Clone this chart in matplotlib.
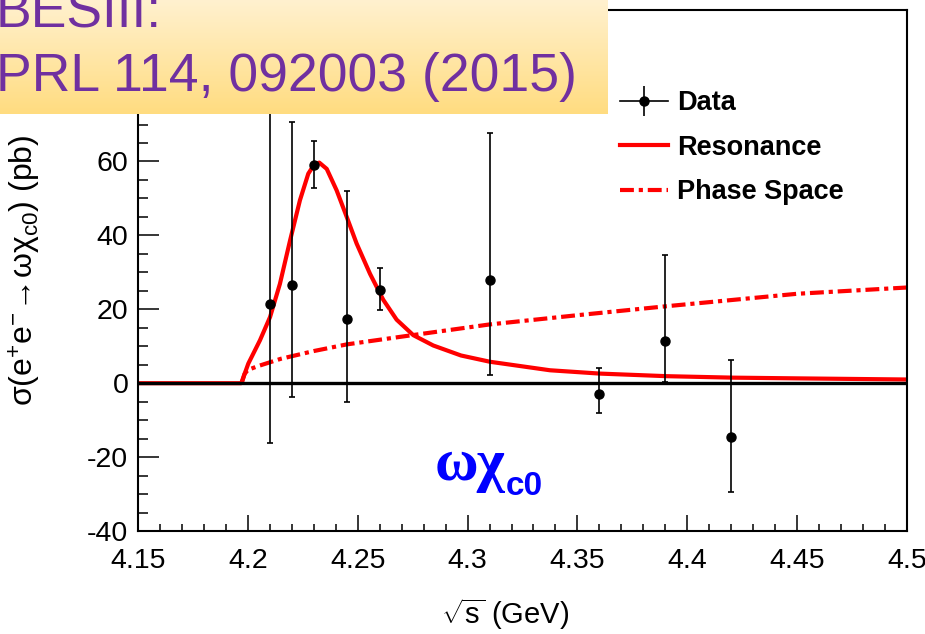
import numpy as np
import matplotlib.pyplot as plt
from matplotlib.lines import Line2D
from matplotlib.ticker import MultipleLocator
from matplotlib.colors import LinearSegmentedColormap

plt.rcParams['font.family'] = ['Liberation Sans', 'DejaVu Sans']
plt.rcParams['mathtext.fontset'] = 'custom'
plt.rcParams['mathtext.rm'] = 'Liberation Sans'
plt.rcParams['mathtext.it'] = 'Liberation Sans:italic'
plt.rcParams['mathtext.bf'] = 'Liberation Sans:bold'
plt.rcParams['mathtext.default'] = 'regular'
plt.rcParams['lines.scale_dashes'] = False

# measured cross sections (pb)
energy = [4.21, 4.22, 4.23, 4.245, 4.26, 4.31, 4.36, 4.39, 4.42]
xsec = [21.5, 26.7, 59.0, 17.3, 25.3, 27.8, -2.8, 11.3, -14.5]
err_lo = [37.7, 30.4, 6.1, 22.4, 5.6, 25.5, 5.4, 10.9, 14.9]
err_hi = [60.0, 43.9, 6.5, 34.6, 5.9, 39.8, 6.8, 23.3, 20.9]

# fit curves
res_x = [4.15, 4.197, 4.2002, 4.2055, 4.2101, 4.2146, 4.2192, 4.2237, 4.2275,
         4.2300, 4.2325, 4.2359, 4.2404, 4.2450, 4.2495, 4.2556, 4.2616,
         4.2677, 4.2753, 4.2844, 4.2970, 4.3102, 4.3375, 4.3602, 4.3906,
         4.4209, 4.4512, 4.5]
res_y = [0, 0, 5.3, 11.6, 17.9, 26.9, 38.6, 49.5, 56.7,
         59.0, 59.7, 58.0, 52.2, 45.0, 37.8, 29.6, 22.6,
         17.2, 13.0, 10.2, 7.5, 5.8, 3.5, 2.6, 1.9,
         1.5, 1.3, 1.0]
ps_x = [4.1972, 4.1985, 4.2, 4.205, 4.215, 4.23, 4.245, 4.27, 4.31, 4.35,
        4.39, 4.45, 4.5]
ps_y = [0, 2.5, 3.6, 4.7, 6.6, 8.7, 10.5, 12.6, 15.9, 18.4,
        20.8, 24.2, 25.9]

xtick_vals = [4.15, 4.2, 4.25, 4.3, 4.35, 4.4, 4.45, 4.5]
xtick_labels = ['4.15', '4.2', '4.25', '4.3', '4.35', '4.4', '4.45', '4.5']
ytick_vals = [-40, -20, 0, 20, 40, 60, 80, 100]
ytick_labels = ['-40', '-20', '0', '20', '40', '60', '80', '100']

W, H = 925, 634
fig = plt.figure(figsize=(W / 100, H / 100), dpi=100)
ax = fig.add_axes([138 / W, 1 - 531 / H, 769 / W, 521 / H])

res_line, = ax.plot(res_x, res_y, color='red', lw=3, zorder=2)
ps_line, = ax.plot(ps_x, ps_y, color='red', lw=3, dashes=(10, 3.5, 3, 3.5), zorder=2)
ax.axhline(0, color='black', lw=2.4, zorder=3)
ax.errorbar(energy, xsec, yerr=[err_lo, err_hi], fmt='o', color='black', ms=6.5,
            elinewidth=1.2, capsize=2.4, capthick=1.2, zorder=4)

ax.set_xlim(4.15, 4.5)
ax.set_ylim(-40, 101)
ax.set_xticks(xtick_vals, xtick_labels)
ax.set_yticks(ytick_vals, ytick_labels)
ax.xaxis.set_minor_locator(MultipleLocator(0.01))
ax.yaxis.set_minor_locator(MultipleLocator(5))
ax.tick_params(which='both', direction='in', top=False, right=False, width=1.1,
               labelsize=20.5)
ax.tick_params(axis='x', which='major', length=11.5, pad=12)
ax.tick_params(axis='x', which='minor', length=5)
ax.tick_params(axis='y', which='major', length=15, pad=7)
ax.tick_params(axis='y', which='minor', length=7.5)
for s in ax.spines.values():
    s.set_linewidth(1.5)

ax.set_xlabel(r'$\sqrt{s}$ (GeV)', fontsize=21)
ax.xaxis.set_label_coords(0.477, -0.125)
ax.set_ylabel(r'$\sigma(e^{+}e^{-}\!\rightarrow\!\omega\chi_{c0})$ (pb)', fontsize=23)
ax.yaxis.set_label_coords(-0.124, 0.5)

data_handle = (Line2D([], [], color='black', ls='none', marker='|', ms=21, mew=1.2),
               Line2D([], [], color='black', lw=1.2, marker='o', ms=6.5))
ax.legend([data_handle, res_line, ps_line], ['Data', 'Resonance', 'Phase Space'],
          loc='upper left', bbox_to_anchor=(0.627, 0.846), frameon=False,
          borderpad=0, borderaxespad=0, handlelength=1.75, handletextpad=0.35,
          labelspacing=0.68, prop={'weight': 'bold', 'size': 19.5})

fig.text(435 / W, 1 - 480 / H, '\u03c9\u03c7', color='#0000ff', fontsize=43,
         family='Liberation Serif', weight='bold', va='baseline')
fig.text(506 / W, 1 - 495 / H, 'c0', color='#0000ff', fontsize=24,
         weight='bold', va='baseline')

# gradient banner in the top-left corner
bax = fig.add_axes([0, 1 - 114 / H, 608 / W, 114 / H])
cmap = LinearSegmentedColormap.from_list('banner', ['#fff1cf', '#ffdc80'])
bax.imshow(np.linspace(0, 1, 256)[:, None], aspect='auto', cmap=cmap,
           extent=[0, 1, 0, 1])
bax.axis('off')
bax.text(-4 / W, 1 - 27 / H, 'BESIII:', transform=fig.transFigure, fontsize=38.5,
         color='#7030a0', va='baseline', clip_on=False)
bax.text(-4 / W, 1 - 91 / H, 'PRL 114, 092003 (2015)', transform=fig.transFigure,
         fontsize=38.5, color='#7030a0', va='baseline', clip_on=False)

fig.savefig('out.png', dpi=100)
